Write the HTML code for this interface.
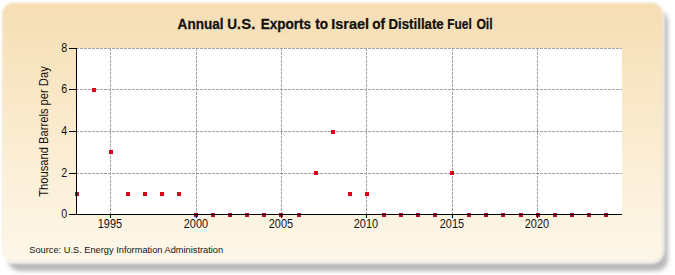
<!DOCTYPE html>
<html><head><meta charset="utf-8"><style>
html,body{margin:0;padding:0;background:#fff;width:675px;height:275px;overflow:hidden}
svg{display:block;font-family:"Liberation Sans",sans-serif}
</style></head><body>
<svg width="675" height="275" viewBox="0 0 675 275">
<defs>
<linearGradient id="bg" x1="0" y1="0" x2="0" y2="1">
<stop offset="0" stop-color="#F6DEB3"/>
<stop offset="1" stop-color="#FEF8EA"/>
</linearGradient>
<filter id="sh" x="-5%" y="-10%" width="110%" height="120%"><feGaussianBlur stdDeviation="2"/></filter><filter id="sh3" x="-2%" y="-2%" width="104%" height="104%"><feGaussianBlur stdDeviation="0.8"/></filter><filter id="sh2" x="-5%" y="-10%" width="110%" height="120%"><feGaussianBlur stdDeviation="0.8"/></filter>
</defs>
<rect x="8" y="10" width="660" height="261" rx="12" fill="#7a7a7a" opacity="0.52" filter="url(#sh)"/>
<rect x="2.5" y="3" width="660" height="258.8" rx="11" fill="none" stroke="#fff" stroke-width="4" opacity="0.8" filter="url(#sh2)"/>
<rect x="2.5" y="3" width="660" height="258.8" rx="11" fill="url(#bg)" stroke="#d8d0b8" stroke-opacity="0.35" stroke-width="1" filter="url(#sh3)"/>
<rect x="76" y="48" width="546" height="166" fill="#fff"/>
<g stroke="#a4a4a4" stroke-width="1" stroke-dasharray="3 1">
<line x1="76" y1="173.5" x2="622" y2="173.5"/><line x1="76" y1="131.5" x2="622" y2="131.5"/><line x1="76" y1="89.5" x2="622" y2="89.5"/><line x1="76" y1="48.5" x2="622" y2="48.5"/><line x1="110.5" y1="48" x2="110.5" y2="214"/><line x1="196.5" y1="48" x2="196.5" y2="214"/><line x1="281.5" y1="48" x2="281.5" y2="214"/><line x1="366.5" y1="48" x2="366.5" y2="214"/><line x1="452.5" y1="48" x2="452.5" y2="214"/><line x1="537.5" y1="48" x2="537.5" y2="214"/>
</g>
<g fill="#DC0018">
<rect x="75" y="192" width="4" height="4" fill="#B8102A"/><rect x="92" y="88" width="4" height="4"/><rect x="109" y="150" width="4" height="4"/><rect x="126" y="192" width="4" height="4"/><rect x="143" y="192" width="4" height="4"/><rect x="160" y="192" width="4" height="4"/><rect x="177" y="192" width="4" height="4"/><rect x="194" y="213" width="4" height="4" fill="#B8102A"/><rect x="211" y="213" width="4" height="4" fill="#B8102A"/><rect x="228" y="213" width="4" height="4" fill="#B8102A"/><rect x="245" y="213" width="4" height="4" fill="#B8102A"/><rect x="262" y="213" width="4" height="4" fill="#B8102A"/><rect x="279" y="213" width="4" height="4" fill="#B8102A"/><rect x="297" y="213" width="4" height="4" fill="#B8102A"/><rect x="314" y="171" width="4" height="4"/><rect x="331" y="130" width="4" height="4"/><rect x="348" y="192" width="4" height="4"/><rect x="365" y="192" width="4" height="4"/><rect x="382" y="213" width="4" height="4" fill="#B8102A"/><rect x="399" y="213" width="4" height="4" fill="#B8102A"/><rect x="416" y="213" width="4" height="4" fill="#B8102A"/><rect x="433" y="213" width="4" height="4" fill="#B8102A"/><rect x="450" y="171" width="4" height="4"/><rect x="467" y="213" width="4" height="4" fill="#B8102A"/><rect x="484" y="213" width="4" height="4" fill="#B8102A"/><rect x="501" y="213" width="4" height="4" fill="#B8102A"/><rect x="519" y="213" width="4" height="4" fill="#B8102A"/><rect x="536" y="213" width="4" height="4" fill="#B8102A"/><rect x="553" y="213" width="4" height="4" fill="#B8102A"/><rect x="570" y="213" width="4" height="4" fill="#B8102A"/><rect x="587" y="213" width="4" height="4" fill="#B8102A"/><rect x="604" y="213" width="4" height="4" fill="#B8102A"/>
</g>
<g stroke="#000" stroke-width="1">
<line x1="76.5" y1="48" x2="76.5" y2="215"/>
<line x1="76" y1="214.5" x2="622" y2="214.5"/>
<line x1="69" y1="214.5" x2="77" y2="214.5"/><line x1="69" y1="173.5" x2="77" y2="173.5"/><line x1="69" y1="131.5" x2="77" y2="131.5"/><line x1="69" y1="89.5" x2="77" y2="89.5"/><line x1="69" y1="48.5" x2="77" y2="48.5"/><line x1="110.5" y1="214" x2="110.5" y2="218"/><line x1="196.5" y1="214" x2="196.5" y2="218"/><line x1="281.5" y1="214" x2="281.5" y2="218"/><line x1="366.5" y1="214" x2="366.5" y2="218"/><line x1="452.5" y1="214" x2="452.5" y2="218"/><line x1="537.5" y1="214" x2="537.5" y2="218"/>
</g>

<g font-size="14" font-weight="bold" fill="#111" stroke="#111" stroke-width="0.25"><text transform="translate(177.6,28.9) scale(0.968,1)">Annual</text><text transform="translate(227.3,28.9) scale(0.968,1)">U.</text><text transform="translate(241.3,28.9) scale(1.07,1)">S.</text><text transform="translate(260.7,28.9) scale(0.968,1)">Exports</text><text transform="translate(315.2,28.9) scale(0.968,1)">to</text><text transform="translate(331.3,28.9) scale(1.035,1)">Israel</text><text transform="translate(372.3,28.9) scale(0.968,1)">of</text><text transform="translate(388.5,28.9) scale(0.947,1)">Distillate</text><text transform="translate(447.3,28.9) scale(0.85,1)">Fuel</text><text transform="translate(476.4,28.9) scale(0.87,1)">Oil</text></g>
<g font-size="12" fill="#111">
<text transform="translate(67.2,218.2) scale(0.89,1)" text-anchor="end">0</text><text transform="translate(67.2,177.2) scale(0.89,1)" text-anchor="end">2</text><text transform="translate(67.2,135.2) scale(0.89,1)" text-anchor="end">4</text><text transform="translate(67.2,93.2) scale(0.89,1)" text-anchor="end">6</text><text transform="translate(67.2,52.2) scale(0.89,1)" text-anchor="end">8</text>
<text transform="translate(109.9,227.6) scale(0.91,1)" text-anchor="middle">1995</text><text transform="translate(195.9,227.6) scale(0.91,1)" text-anchor="middle">2000</text><text transform="translate(280.9,227.6) scale(0.91,1)" text-anchor="middle">2005</text><text transform="translate(365.9,227.6) scale(0.91,1)" text-anchor="middle">2010</text><text transform="translate(451.9,227.6) scale(0.91,1)" text-anchor="middle">2015</text><text transform="translate(536.9,227.6) scale(0.91,1)" text-anchor="middle">2020</text>
</g>
<text transform="translate(47.7,131.5) rotate(-90) scale(0.925,1)" text-anchor="middle" font-size="12.1" fill="#111">Thousand Barrels per Day</text>
<text transform="translate(29.3,253) scale(0.955,1)" font-size="9.7" fill="#111">Source: U.S. Energy Information Administration</text>
</svg>
</body></html>
